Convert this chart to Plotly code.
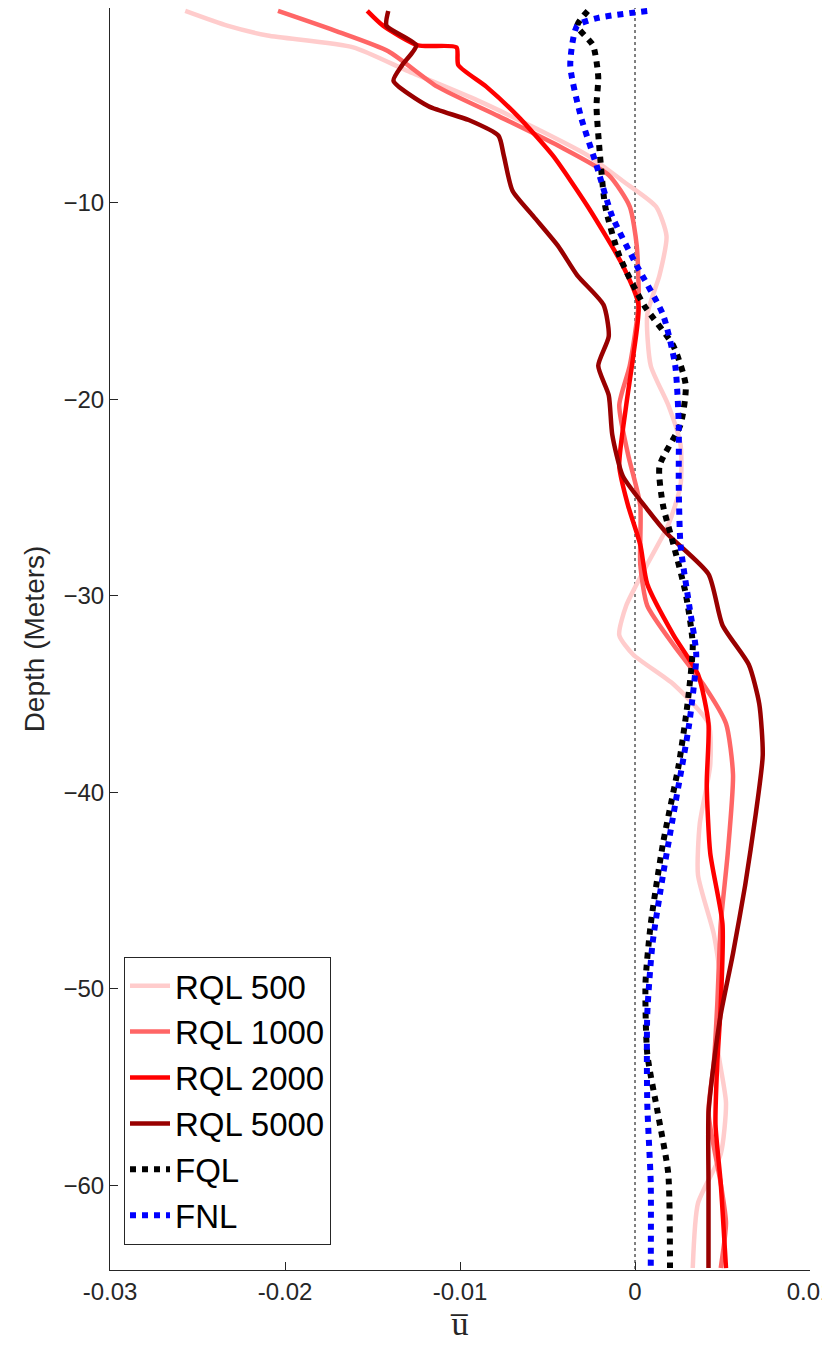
import plotly.graph_objects as go

d500 = [0.25,1.0,1.5,2.1,3.3,4.8,6.3,7.6,8.9,10.2,11.7,13.7,15.7,18.3,20.3,22.3,24.4,26.4,28.4,30.5,32.0,33.0,34.5,36.5,38.6,41.6,44.2,47.2,49.7,52.8,55.8,58.4,60.9,64.2]
u500 = [-25.7,-23.3,-21.0,-16.1,-13.0,-9.0,-5.5,-2.7,-0.7,1.2,1.8,1.4,0.7,0.9,1.9,2.6,2.6,1.9,0.7,-0.5,-0.9,-0.1,2.2,4.2,4.3,3.7,3.6,4.5,4.9,4.7,5.2,4.9,3.6,3.3]
d1000 = [0.25,1.3,2.3,4.1,5.6,7.1,8.6,10.2,12.2,15.2,18.3,20.3,22.8,25.4,28.4,30.5,32.5,34.5,36.5,39.1,43.1,46.7,50.8,53.8,56.3,59.9,61.9,64.2]
u1000 = [-20.4,-17.0,-14.1,-11.3,-7.8,-4.4,-1.5,-0.3,0.1,0.2,-0.3,-0.9,-0.4,0.3,0.3,0.7,2.2,3.9,5.2,5.6,5.3,4.9,4.7,4.5,4.2,4.9,5.2,4.9]
d2000 = [0.25,1.0,2.0,2.1,3.0,4.1,5.6,7.6,10.2,13.2,15.2,17.8,20.3,23.4,25.4,27.4,29.4,32.0,34.0,36.5,39.6,43.1,46.7,50.8,53.8,56.9,59.9,64.2]
u2000 = [-15.3,-14.4,-12.4,-10.2,-10.1,-8.5,-6.7,-4.7,-2.7,-0.7,0.2,-0.1,-0.5,-0.9,-0.4,0.3,0.7,2.2,3.6,4.2,4.1,4.3,5.0,4.9,4.7,4.6,4.9,5.2]
d5000 = [0.25,1.0,2.0,3.0,3.8,5.1,5.8,6.6,7.6,9.4,10.7,12.2,13.7,15.2,16.8,18.3,19.8,21.8,23.9,25.6,26.9,28.9,31.5,33.5,35.5,38.1,41.1,44.7,48.2,51.3,53.8,56.3,59.9,64.2]
u5000 = [-14.1,-14.2,-12.5,-13.3,-13.8,-11.8,-9.5,-7.8,-7.5,-7.0,-5.8,-4.4,-3.3,-1.8,-1.5,-2.1,-1.5,-1.3,-0.7,0.7,1.9,4.2,5.0,6.5,7.1,7.3,6.9,6.3,5.6,4.9,4.5,4.2,4.2,4.2]
dfql = [0.25,1.0,2.0,3.6,5.1,7.6,10.2,12.7,15.2,17.3,19.3,21.3,23.4,25.4,27.4,29.9,32.5,35.5,38.6,42.6,46.7,49.7,53.3,56.3,59.4,64.2]
ufql = [-2.7,-3.3,-2.4,-2.1,-2.2,-2.0,-1.7,-0.9,0.5,2.2,2.9,2.6,1.4,1.6,2.2,2.9,3.3,3.0,2.5,1.6,0.9,0.6,0.7,1.3,1.9,2.0]
dfnl = [0.25,0.6,1.0,3.0,5.6,8.1,10.7,13.2,15.7,18.3,21.3,24.4,27.4,30.5,33.0,36.5,40.6,44.2,47.7,51.3,55.8,59.9,64.2]
ufnl = [0.7,-2.1,-3.3,-3.7,-3.1,-2.2,-1.3,0.1,1.6,2.3,2.5,2.5,2.6,3.1,3.5,3.1,2.3,1.6,1.0,0.7,0.7,0.9,0.9]

series = [
    ("RQL 500", d500, u500, "#ffcccc", "solid"),
    ("RQL 1000", d1000, u1000, "#ff6666", "solid"),
    ("RQL 2000", d2000, u2000, "#ff0000", "solid"),
    ("RQL 5000", d5000, u5000, "#990000", "solid"),
    ("FQL", dfql, ufql, "#000000", "dot"),
    ("FNL", dfnl, ufnl, "#0000ff", "dot"),
]

fig = go.Figure()
fig.add_trace(go.Scatter(x=[0, 0], y=[0, -70], mode="lines", showlegend=False,
                         line=dict(color="black", width=1, dash="dot")))
for name, d, u, c, dash in series:
    fig.add_trace(go.Scatter(x=[v * 1e-3 for v in u], y=[-v for v in d], mode="lines", name=name,
                             line=dict(color=c, width=6 if dash == "dot" else 4.5, dash=dash,
                                       shape="spline", smoothing=0.6)))

fig.update_layout(
    width=830, height=1358, plot_bgcolor="white", paper_bgcolor="white",
    margin=dict(l=102, r=28, t=0, b=96),
    font=dict(family="Liberation Sans, Arial", size=24, color="#262626"),
    legend=dict(x=0.02, y=0.02, xanchor="left", yanchor="bottom", bgcolor="white",
                bordercolor="#262626", borderwidth=1, font=dict(size=33, color="black"),
                itemwidth=40, tracegroupgap=0),
)
fig.update_xaxes(range=[-0.03, 0.01], tickvals=[-0.03, -0.02, -0.01, 0, 0.01],
                 ticktext=["-0.03", "-0.02", "-0.01", "0", "0.01"], automargin=False,
                 showgrid=False, zeroline=False, showline=True, linecolor="#262626",
                 ticks="inside", ticklen=8, tickcolor="#262626",
                 title=dict(text="u\u0305", font=dict(family="Liberation Serif, serif", size=34), standoff=0))
fig.update_yaxes(range=[-64.3, -0.1], tickvals=[-10, -20, -30, -40, -50, -60], automargin=False,
                 showgrid=False, zeroline=False, showline=True, linecolor="#262626",
                 ticks="inside", ticklen=8, tickcolor="#262626",
                 title=dict(text="Depth (Meters)", font=dict(size=28), standoff=10))
fig.write_html("out.html")
